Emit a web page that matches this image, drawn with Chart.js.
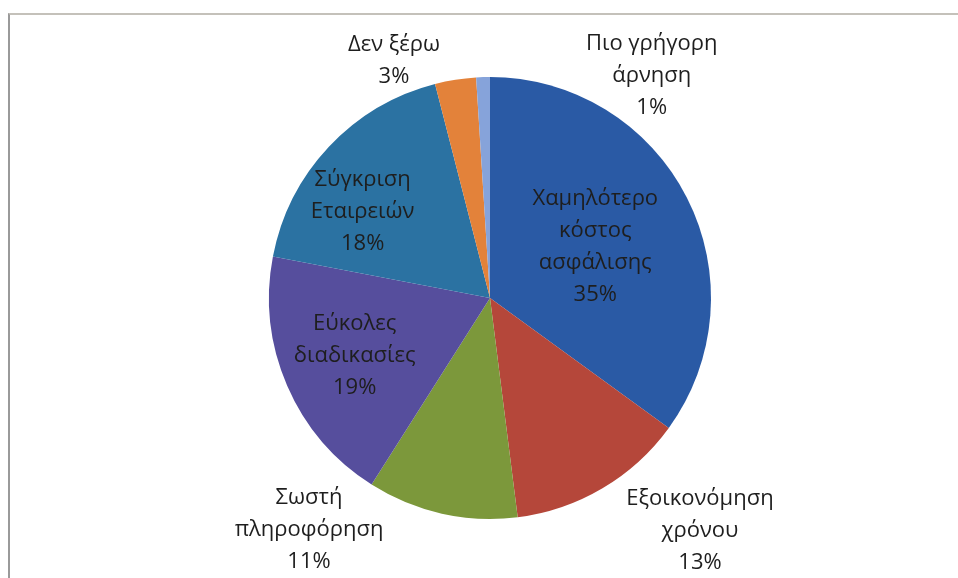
<!DOCTYPE html>
<html>
<head>
<meta charset="utf-8">
<script src="https://cdn.jsdelivr.net/npm/chart.js@4.4.1/dist/chart.umd.min.js"></script>
<style>
  html, body { margin: 0; padding: 0; background: #fff; }
  #wrap { position: relative; width: 958px; height: 578px; }
  #frame {
    position: absolute; left: 8px; top: 13px; right: 0; bottom: 0;
    border-left: 2px solid #9a9a9a; border-top: 2px solid #c4c1ba;
    pointer-events: none;
  }
  canvas { position: absolute; left: 0; top: 0; }
</style>
</head>
<body>
<div id="wrap">
  <canvas id="pie" width="958" height="578"></canvas>
  <div id="frame"></div>
</div>
<script>
// slice names (one entry per line of the label) and their shares in %
const categories = [
  ["Χαμηλότερο", "κόστος", "ασφάλισης"],
  ["Εξοικονόμηση", "χρόνου"],
  ["Σωστή", "πληροφόρηση"],
  ["Εύκολες", "διαδικασίες"],
  ["Σύγκριση", "Εταιρειών"],
  ["Δεν ξέρω"],
  ["Πιο γρήγορη", "άρνηση"]
];
const shares = [35, 13, 11, 19, 18, 3, 1];

const sliceColors = ["#2a5aa5", "#b5473a", "#7c983b", "#564e9d", "#2b72a2", "#e3823a", "#86a3da"];

// where each label block sits: angle clockwise from 12 o'clock (deg), distance as a fraction of the radius
const labelAngle = [64, 138, 218, 247, 304, 338, 36];
const labelDist = [0.53, 1.42, 1.33, 0.665, 0.695, 1.16, 1.245];

const lineHeight = 32;

const labelPlugin = {
  id: "sliceLabels",
  afterDatasetsDraw(chart) {
    const ctx = chart.ctx;
    const meta = chart.getDatasetMeta(0);
    ctx.save();
    ctx.font = "22px 'Open Sans', sans-serif";
    ctx.fillStyle = "#1e1e1e";
    ctx.textAlign = "center";
    ctx.textBaseline = "middle";
    meta.data.forEach((arc, i) => {
      const a = labelAngle[i] * Math.PI / 180;
      const r = arc.outerRadius * labelDist[i];
      const cx = arc.x + r * Math.sin(a);
      const cy = arc.y - r * Math.cos(a);
      const lines = categories[i].concat([shares[i] + "%"]);
      const top = cy - (lines.length - 1) * lineHeight / 2;
      lines.forEach((t, k) => ctx.fillText(t, cx, top + k * lineHeight));
    });
    ctx.restore();
  }
};

new Chart(document.getElementById("pie"), {
  type: "pie",
  data: {
    labels: categories.map(c => c.join(" ")),
    datasets: [{
      data: shares,
      backgroundColor: sliceColors,
      borderWidth: 0
    }]
  },
  options: {
    responsive: false,
    animation: false,
    layout: { padding: { left: 269, right: 247, top: 77, bottom: 59 } },
    plugins: {
      legend: { display: false },
      tooltip: { enabled: false }
    }
  },
  plugins: [labelPlugin]
});
</script>
</body>
</html>
